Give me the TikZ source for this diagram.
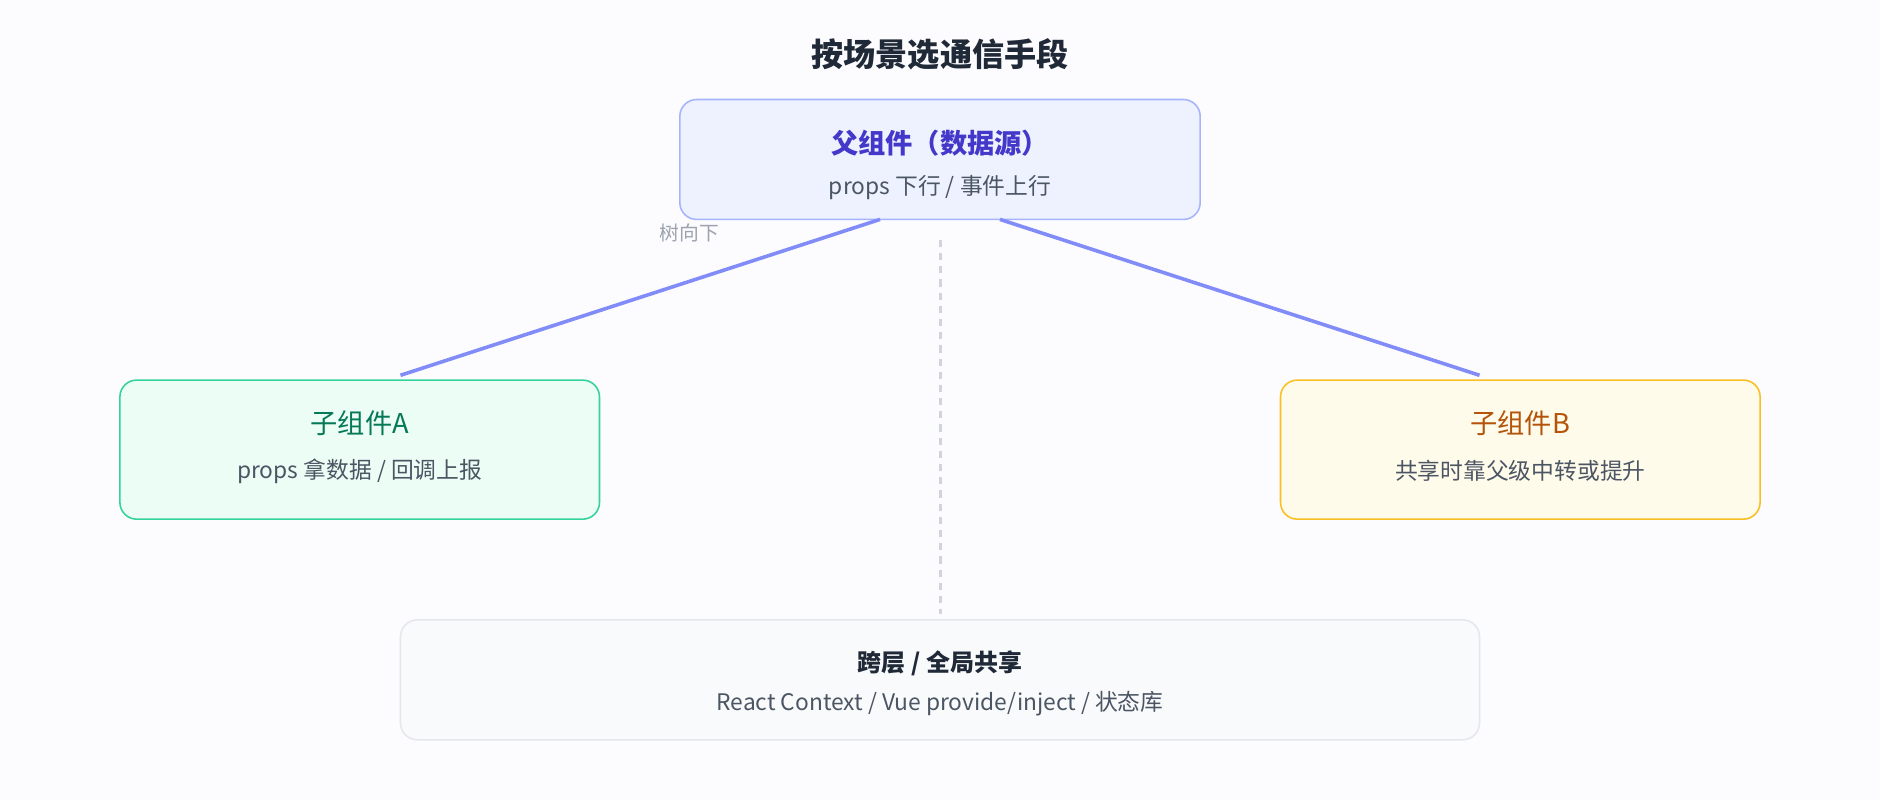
\documentclass[tikz,border=0pt]{standalone}
\usepackage{fontspec}
\setmainfont{Noto Sans CJK SC}
\begin{document}
\begin{tikzpicture}[x=1pt,y=-1pt,
  box/.style={draw,rounded corners=14pt,line width=1.3pt},
  ttl/.style={font=\fontsize{22.7}{26}\selectfont},
  sub/.style={font=\fontsize{19}{22}\selectfont,text=gray600},
  link/.style={draw=indigo4,line width=3pt}]
\definecolor{bgc}{HTML}{FCFCFE}
\definecolor{gray600}{HTML}{4B5563}
\definecolor{indigo4}{HTML}{818CF8}
\useasboundingbox[fill=bgc] (0,0) rectangle (1568,667);
\node[font=\bfseries\fontsize{26.8}{30}\selectfont,text={rgb,255:red,31;green,41;blue,55}] (title) at (784,45) {按场景选通信手段};
% parent
\draw[box,draw={rgb,255:red,165;green,180;blue,252},fill={rgb,255:red,238;green,242;blue,255}] (567,83) rectangle (1001,183);
\node[font=\bfseries\fontsize{22.7}{26}\selectfont,text={rgb,255:red,67;green,56;blue,202}] (pt) at (784,119) {父组件（数据源）};
\node[sub] (ps) at (784,156) {props 下行 / 事件上行};
\node[font=\fontsize{16.5}{19}\selectfont,text={rgb,255:red,156;green,163;blue,175}] (lbl) at (575,194) {树向下};
% child A
\draw[box,draw={rgb,255:red,52;green,211;blue,153},fill={rgb,255:red,236;green,253;blue,245}] (100,317) rectangle (500,433);
\node[ttl,text={rgb,255:red,4;green,120;blue,87}] (at) at (300,353) {子组件A};
\node[sub] (as) at (300,393) {props 拿数据 / 回调上报};
% child B
\draw[box,draw={rgb,255:red,251;green,191;blue,36},fill={rgb,255:red,255;green,251;blue,235}] (1068,317) rectangle (1468,433);
\node[ttl,text={rgb,255:red,180;green,83;blue,9}] (bt) at (1268,353) {子组件B};
\node[sub] (bs) at (1268,393) {共享时靠父级中转或提升};
% bottom
\draw[box,draw={rgb,255:red,229;green,231;blue,235},fill={rgb,255:red,249;green,250;blue,251}] (334,517) rectangle (1234,617);
\node[font=\bfseries\fontsize{20}{24}\selectfont,text={rgb,255:red,31;green,41;blue,55}] (ct) at (784,553) {跨层 / 全局共享};
\node[sub] (cs) at (784,587) {React Context / Vue provide/inject / 状态库};
% connectors
\coordinate (p1) at (734,183); \coordinate (p2) at (834,183);
\coordinate (a1) at (334,313); \coordinate (b1) at (1234,313);
\coordinate (d1) at (784,200); \coordinate (d2) at (784,512);
\draw[link] (p1) -- (a1);
\draw[link] (p2) -- (b1);
\draw[draw={rgb,255:red,209;green,213;blue,219},line width=2.5pt,dash pattern=on 6pt off 5pt] (d1) -- (d2);
\end{tikzpicture}
\end{document}
